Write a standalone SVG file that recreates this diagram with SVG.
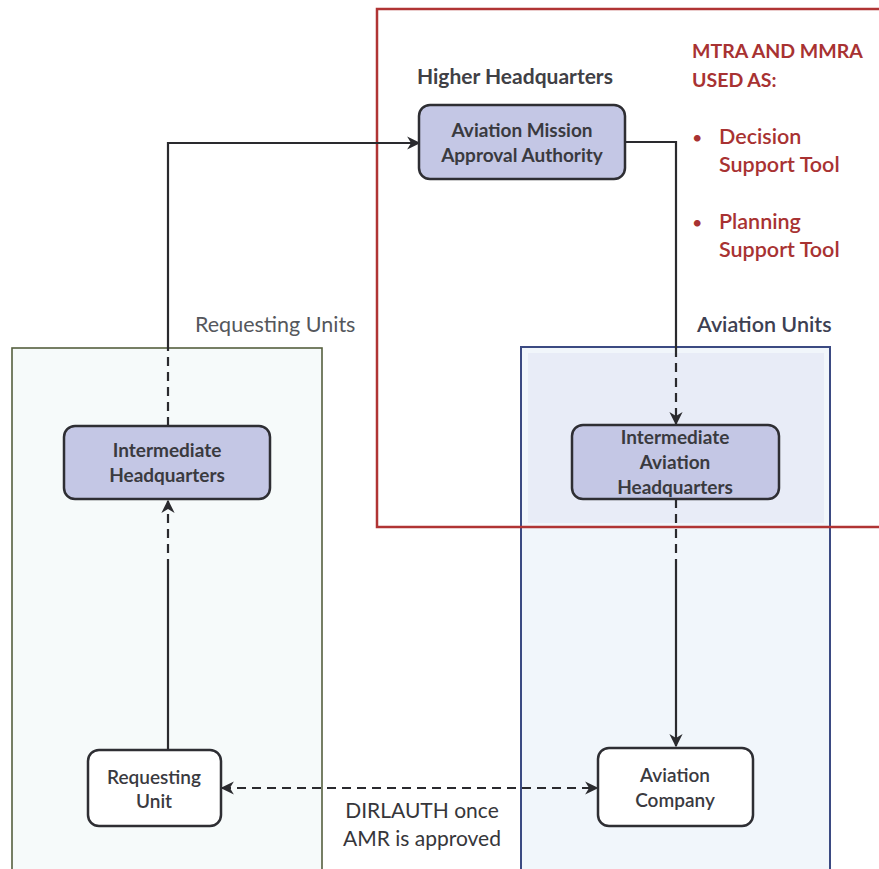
<svg xmlns="http://www.w3.org/2000/svg" width="879" height="869" viewBox="0 0 879 869">
  <style>
    .lbl { font-family: Lato, "Liberation Sans", sans-serif; }
    .node rect { stroke: #2e2e33; stroke-width: 2.5; }
    .hq rect { fill: #c4c7e5; }
    .unit rect { fill: #ffffff; }
    .node text { font-family: Lato, "Liberation Sans", sans-serif; font-size: 19px; font-weight: 700; fill: #3a3a3f; text-anchor: middle; }
    .unit text { font-weight: 600; }
    .red { fill: #a83232; font-family: Lato, "Liberation Sans", sans-serif; }
    .conn { fill: none; stroke: #2a2a2e; stroke-width: 2.2; }
    .dash { stroke-dasharray: 9 6; }
  </style>
  <defs>
    <marker id="arrow" viewBox="0 0 10 10" refX="9" refY="5" markerWidth="6" markerHeight="6" markerUnits="strokeWidth" orient="auto-start-reverse">
      <path d="M0,0 L10,5 L0,10 L3,5 z" fill="#2a2a2e"/>
    </marker>
  </defs>

  <rect width="879" height="869" fill="#ffffff"/>

  <!-- group containers -->
  <g id="requesting-units">
    <rect x="12" y="348" width="310" height="530" fill="#f6fafa" stroke="#56603f" stroke-width="1.6"/>
    <text class="lbl" x="195" y="332" font-size="21.5" fill="#55575c">Requesting Units</text>
  </g>
  <g id="aviation-units">
    <rect x="521" y="347" width="309" height="531" fill="#f1f6fb" stroke="#3b4a82" stroke-width="2"/>
    <rect x="528" y="353" width="296" height="170" fill="#e8ecf7"/>
    <text class="lbl" x="697" y="332" font-size="21.5" font-weight="600" fill="#3d4052">Aviation Units</text>
  </g>
  <g id="higher-headquarters">
    <rect x="377" y="9" width="510" height="518" fill="none" stroke="#b03434" stroke-width="2.5"/>
    <text class="lbl" x="417" y="84" font-size="21" font-weight="700" fill="#404045">Higher Headquarters</text>
  </g>

  <!-- usage notes -->
  <g id="usage-notes" class="red">
    <text x="692" y="58" font-size="19.5" font-weight="700">MTRA AND MMRA</text>
    <text x="692" y="87" font-size="19.5" font-weight="700">USED AS:</text>
    <text x="692" y="144" font-size="18">•</text>
    <text x="719" y="144" font-size="21.5" font-weight="600">Decision</text>
    <text x="719" y="172" font-size="21.5" font-weight="600">Support Tool</text>
    <text x="692" y="229" font-size="18">•</text>
    <text x="719" y="229" font-size="21.5" font-weight="600">Planning</text>
    <text x="719" y="257" font-size="21.5" font-weight="600">Support Tool</text>
  </g>

  <!-- connectors -->
  <g id="connectors">
    <!-- Requesting Unit up to Intermediate Headquarters -->
    <path class="conn" d="M168,749 V568"/>
    <path class="conn dash" d="M168,568 V501" marker-end="url(#arrow)"/>
    <!-- Intermediate Headquarters up to Approval Authority -->
    <path class="conn dash" d="M168,426 V349"/>
    <path class="conn" d="M168,349 V143 H419" marker-end="url(#arrow)"/>
    <!-- Approval Authority down to Intermediate Aviation Headquarters -->
    <path class="conn" d="M625,142 H676 V348"/>
    <path class="conn dash" d="M676,348 V424" marker-end="url(#arrow)"/>
    <!-- Intermediate Aviation Headquarters down to Aviation Company -->
    <path class="conn dash" d="M676,499 V568"/>
    <path class="conn" d="M676,568 V746" marker-end="url(#arrow)"/>
    <!-- direct liaison between Requesting Unit and Aviation Company -->
    <path class="conn dash" d="M222,788 H597" marker-start="url(#arrow)" marker-end="url(#arrow)"/>
    <text class="lbl" x="422" y="818" font-size="21" fill="#36363a" text-anchor="middle">DIRLAUTH once</text>
    <text class="lbl" x="422" y="846" font-size="21" fill="#36363a" text-anchor="middle">AMR is approved</text>
  </g>

  <!-- nodes -->
  <g id="approval-authority" class="node hq">
    <rect x="419" y="105" width="206" height="74" rx="11"/>
    <text x="522" y="137">Aviation Mission</text>
    <text x="522" y="162">Approval Authority</text>
  </g>
  <g id="intermediate-hq" class="node hq">
    <rect x="64" y="426" width="206" height="73" rx="11"/>
    <text x="167" y="457">Intermediate</text>
    <text x="167" y="482">Headquarters</text>
  </g>
  <g id="intermediate-aviation-hq" class="node hq">
    <rect x="572" y="425" width="207" height="74" rx="11"/>
    <text x="675" y="444">Intermediate</text>
    <text x="675" y="469">Aviation</text>
    <text x="675" y="494">Headquarters</text>
  </g>
  <g id="requesting-unit" class="node unit">
    <rect x="88" y="750" width="133" height="76" rx="11"/>
    <text x="154" y="784">Requesting</text>
    <text x="154" y="808">Unit</text>
  </g>
  <g id="aviation-company" class="node unit">
    <rect x="598" y="748" width="155" height="78" rx="11"/>
    <text x="675" y="782">Aviation</text>
    <text x="675" y="807">Company</text>
  </g>
</svg>
